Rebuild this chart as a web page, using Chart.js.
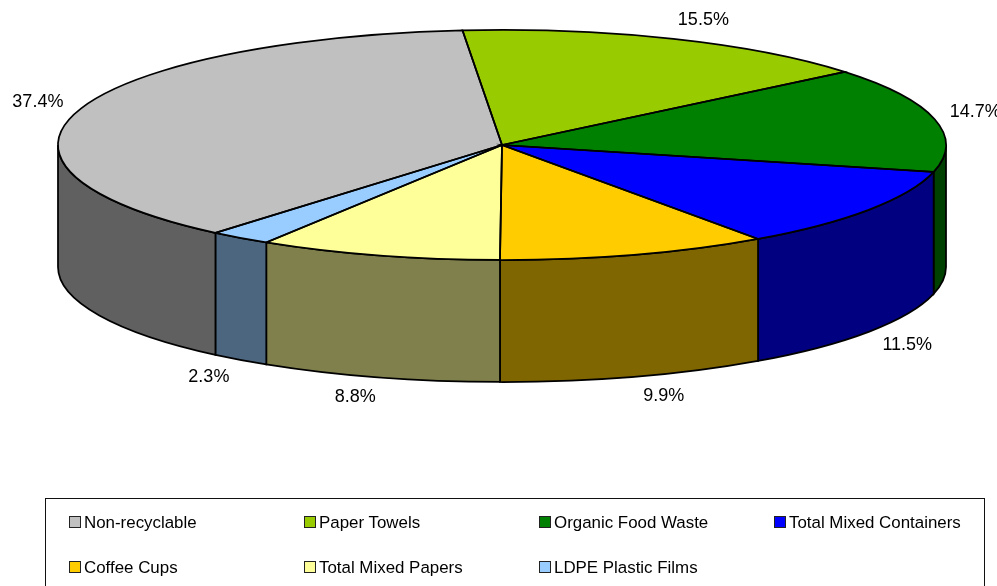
<!DOCTYPE html>
<html>
<head>
<meta charset="utf-8">
<title>Waste composition</title>
<script src="https://cdn.jsdelivr.net/npm/chart.js@4"></script>
<style>
  html, body { margin: 0; padding: 0; background: #fff; overflow: hidden; }
  #wrap { position: relative; width: 997px; height: 586px; overflow: hidden; }
  #pie { position: absolute; left: 0; top: 0; }
  #legend {
    position: absolute; left: 45px; top: 498px; width: 938px; height: 110px;
    border: 1px solid #111; box-sizing: content-box;
    font: 16.9px "Liberation Sans", Arial, sans-serif; color: #000;
  }
  #legend .item { position: absolute; white-space: nowrap; line-height: 20px; }
  #legend .box {
    position: absolute; left: 0; top: 3px; width: 10px; height: 10px;
    border: 1.5px solid #222;
  }
  #legend .item span.txt { margin-left: 15px; }
</style>
</head>
<body>
<div id="wrap">
  <canvas id="pie" width="997" height="586"></canvas>
  <div id="legend"></div>
</div>
<script>
const categories = ["Paper Towels", "Organic Food Waste", "Total Mixed Containers", "Coffee Cups", "Total Mixed Papers", "LDPE Plastic Films", "Non-recyclable"];
const shares = [15.46, 14.74, 11.46, 9.86, 8.84, 2.26, 37.44];
const topColors = ["#99CC00", "#008000", "#0000FF", "#FFCC00", "#FFFF99", "#99CCFF", "#C0C0C0"];
const sideColors = ["#4D6600", "#004000", "#000080", "#806600", "#80804D", "#4D6680", "#606060"];
const legendOrder = ["Non-recyclable", "Paper Towels", "Organic Food Waste", "Total Mixed Containers", "Coffee Cups", "Total Mixed Papers", "LDPE Plastic Films"];

const RADIUS = 444;
const SQUASH = 115 / 444;
const DEPTH = 122;

// -------- fake 3D: squash the arcs, add the wall, outlines and labels by hand
const tiltPlugin = {
  id: "tilt",
  beforeDatasetDraw(chart) {
    const ctx = chart.ctx;
    const arcs = chart.getDatasetMeta(0).data;
    const cx = arcs[0].x, cy = arcs[0].y;
    const ry = RADIUS * SQUASH;

    // wall, only the front half of the ellipse shows
    arcs.forEach((arc, i) => {
      const a = Math.max(arc.startAngle, 0);
      const b = Math.min(arc.endAngle, Math.PI);
      if (b <= a) return;
      ctx.beginPath();
      ctx.ellipse(cx, cy, RADIUS, ry, 0, a, b);
      ctx.ellipse(cx, cy + DEPTH, RADIUS, ry, 0, b, a, true);
      ctx.closePath();
      ctx.fillStyle = sideColors[i];
      ctx.fill();
      ctx.strokeStyle = "#000";
      ctx.lineWidth = 1.75;
      ctx.stroke();
    });

    ctx.save();
    ctx.translate(cx, cy);
    ctx.scale(1, SQUASH);
    ctx.translate(-cx, -cy);
  },
  afterDatasetDraw(chart) {
    const ctx = chart.ctx;
    ctx.restore();

    const arcs = chart.getDatasetMeta(0).data;
    const cx = arcs[0].x, cy = arcs[0].y;
    const ry = RADIUS * SQUASH;

    arcs.forEach((arc) => {
      ctx.beginPath();
      ctx.moveTo(cx, cy);
      ctx.ellipse(cx, cy, RADIUS, ry, 0, arc.startAngle, arc.endAngle);
      ctx.closePath();
      ctx.strokeStyle = "#000";
      ctx.lineWidth = 1.75;
      ctx.stroke();
    });

    // percent labels, the front ones sit below the wall
    ctx.font = '18px "Liberation Sans", Arial, sans-serif';
    ctx.fillStyle = "#000";
    ctx.textAlign = "center";
    ctx.textBaseline = "middle";
    arcs.forEach((arc, i) => {
      const mid = (arc.startAngle + arc.endAngle) / 2;
      const c = Math.cos(mid), s = Math.sin(mid);
      const dx = c < 0 ? 16 + 26 * Math.abs(c) : 23 + 18 * c;
      const dy = s > 0 ? DEPTH + 6 + 14 * s : 17 * s - 3;
      ctx.fillText(shares[i].toFixed(1) + "%", cx + RADIUS * c + Math.sign(c) * dx, cy + ry * s + dy);
    });
  },
};

new Chart(document.getElementById("pie"), {
  type: "pie",
  data: {
    labels: categories,
    datasets: [{ data: shares, backgroundColor: topColors, borderWidth: 0, clip: false }],
  },
  options: {
    responsive: false,
    animation: false,
    rotation: -5.1,
    radius: RADIUS,
    layout: { padding: { left: 7, bottom: 296 } },
    plugins: { legend: { display: false }, tooltip: { enabled: false } },
  },
  plugins: [tiltPlugin],
});

// -------- legend, two rows of four columns
const legend = document.getElementById("legend");
legendOrder.forEach((name, i) => {
  const item = document.createElement("div");
  item.className = "item";
  item.style.left = 23 + (i % 4) * 235 + "px";
  item.style.top = 14 + Math.floor(i / 4) * 45 + "px";
  const color = topColors[categories.indexOf(name)];
  item.innerHTML = `<span class="box" style="background:${color}"></span><span class="txt">${name}</span>`;
  legend.appendChild(item);
});
</script>
</body>
</html>
